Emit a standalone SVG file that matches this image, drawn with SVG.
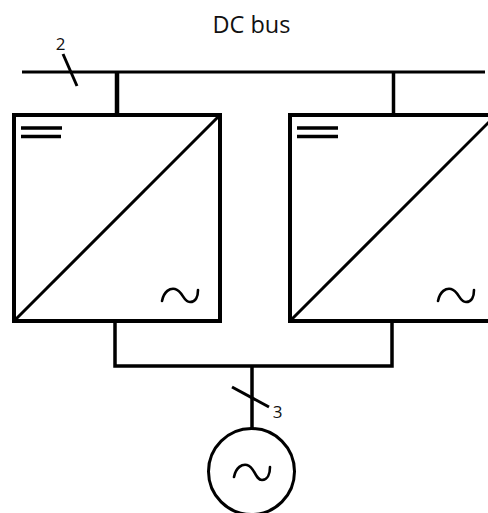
<svg xmlns="http://www.w3.org/2000/svg" width="488" height="513" viewBox="0 0 488 513">
<style>
text{font-family:"Open Sans","Noto Sans","Liberation Sans",sans-serif;fill:#111}
.l{fill:none;stroke:#000;stroke-linecap:butt}
.box{fill:#fff;stroke:#000;stroke-width:4}
.diag{stroke:#000;stroke-width:3;fill:none}
.bar{stroke:#000;stroke-width:3.5}
.t{fill:none;stroke:#000;stroke-width:2.600;stroke-linecap:round}
</style>
<rect width="488" height="513" fill="#fff"/>
<g id="connectors">
<path class="l" stroke-width="3" d="M22 72H485"/>
<path class="l" stroke-width="4.500" d="M117 72V115"/>
<path class="l" stroke-width="3.500" d="M393.500 72V115"/>
<path class="l" stroke-width="3" d="M63 54L77 86"/>
<path class="l" stroke-width="3.500" d="M115 321V366H392V321"/>
<path class="l" stroke-width="3.500" d="M252 366V430"/>
<path class="l" stroke-width="3" d="M232 387L269 407"/>
</g>
<g id="label-bus"><text x="251.500" y="33" font-size="23.500" text-anchor="middle">DC bus</text></g>
<g id="label-2"><text x="60.500" y="50" font-size="17" text-anchor="middle">2</text></g>
<g id="label-3"><text x="277.500" y="418" font-size="17" text-anchor="middle">3</text></g>
<g id="converter-1">
<rect class="box" x="14" y="115" width="206" height="206"/>
<path class="diag" d="M14 321L220 115"/>
<path class="bar" d="M21 128H62M21 136.500H61"/>
<path class="t" d="M162 301C164 291 170 288 175 289C183 291 183 302 190 302C196 302 198 296 198 290"/>
</g>
<g id="converter-2">
<rect class="box" x="290" y="115" width="206" height="206" stroke-width="4.500"/>
<path class="diag" d="M290 321L496 115"/>
<path class="bar" d="M297 128H338M297 136.500H338"/>
<path class="t" d="M438 301C440 291 446 288 451 289C459 291 459 302 466 302C472 302 474 296 474 290"/>
</g>
<g id="generator">
<circle cx="251.500" cy="471.500" r="43" fill="#fff" stroke="#000" stroke-width="3"/>
<path class="t" d="M234 477C236 467 242 464 247 465C255 467 255 480 262 480C268 480 270 473 270 467"/>
</g>
</svg>
